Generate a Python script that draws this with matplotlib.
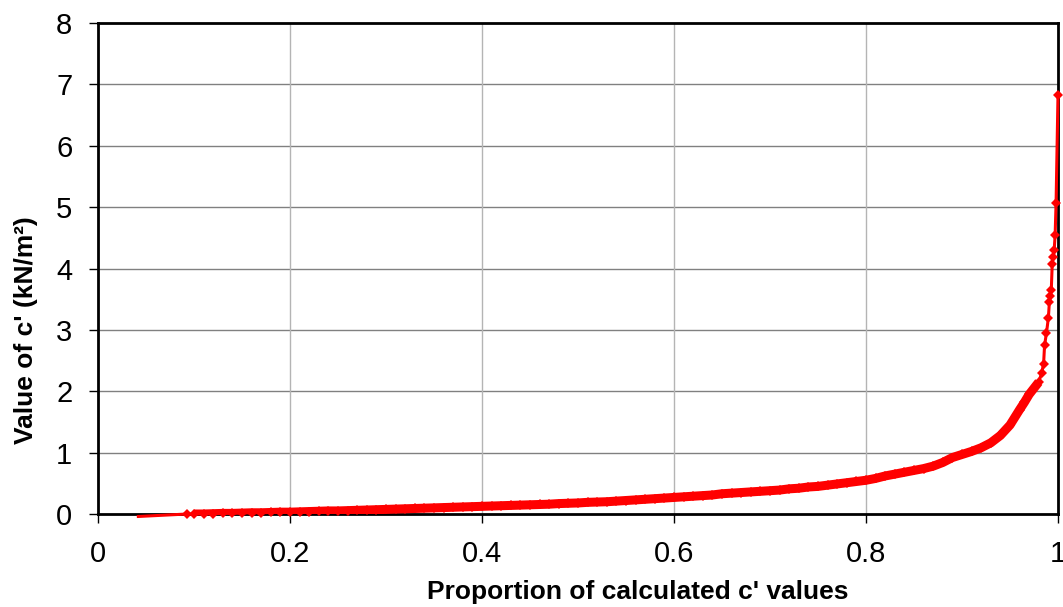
import matplotlib.pyplot as plt

# proportion of calculated values (x) and value of c' (y)
proportion = [0.042, 0.093,
              0.10, 0.11, 0.12, 0.13, 0.14, 0.15, 0.16, 0.17, 0.18, 0.19,
              0.20, 0.21, 0.22, 0.23, 0.24, 0.25, 0.26, 0.27, 0.28, 0.29,
              0.30, 0.31, 0.32, 0.33, 0.34, 0.35, 0.36, 0.37, 0.38, 0.39,
              0.40, 0.41, 0.42, 0.43, 0.44, 0.45, 0.46, 0.47, 0.48, 0.49,
              0.50, 0.51, 0.52, 0.53, 0.54, 0.55, 0.56, 0.57, 0.58, 0.59,
              0.60, 0.61, 0.62, 0.63, 0.64, 0.65, 0.66, 0.67, 0.68, 0.69,
              0.70, 0.71, 0.72, 0.73, 0.74, 0.75, 0.76, 0.77, 0.78, 0.79,
              0.80, 0.81, 0.82, 0.83, 0.84, 0.85, 0.86, 0.87, 0.88, 0.89,
              0.90, 0.91, 0.92, 0.93, 0.94, 0.95, 0.96, 0.965, 0.97, 0.975,
              0.98, 0.983, 0.985, 0.986, 0.988, 0.990, 0.991, 0.992, 0.993,
              0.994, 0.995, 0.996, 0.997, 0.998, 1.000]
c_value = [-0.04, 0.0,
           0.0, 0.0, 0.005, 0.01, 0.01, 0.015, 0.02, 0.02, 0.025, 0.03,
           0.03, 0.035, 0.04, 0.045, 0.05, 0.05, 0.055, 0.06, 0.065, 0.07,
           0.075, 0.08, 0.085, 0.09, 0.095, 0.10, 0.105, 0.11, 0.115, 0.12,
           0.125, 0.13, 0.135, 0.14, 0.145, 0.15, 0.155, 0.16, 0.17, 0.175,
           0.18, 0.19, 0.195, 0.20, 0.21, 0.22, 0.23, 0.24, 0.25, 0.26,
           0.27, 0.28, 0.29, 0.30, 0.31, 0.33, 0.34, 0.35, 0.36, 0.37,
           0.38, 0.39, 0.41, 0.42, 0.44, 0.45, 0.47, 0.49, 0.51, 0.53,
           0.55, 0.58, 0.62, 0.65, 0.68, 0.71, 0.74, 0.78, 0.84, 0.92,
           0.97, 1.02, 1.08, 1.16, 1.28, 1.45, 1.70, 1.82, 1.95, 2.05,
           2.15, 2.30, 2.45, 2.75, 2.95, 3.20, 3.45, 3.55, 3.65,
           4.08, 4.18, 4.30, 4.54, 5.07, 6.83]

x_ticks = [0, 0.2, 0.4, 0.6, 0.8, 1]
x_tick_labels = ['0', '0.2', '0.4', '0.6', '0.8', '1']
y_ticks = [0, 1, 2, 3, 4, 5, 6, 7, 8]

plt.rcParams['font.family'] = ['Liberation Sans', 'DejaVu Sans']

fig = plt.figure(figsize=(10.63, 6.07), dpi=100)
ax = fig.add_axes([0.0922, 0.1532, 0.9031, 0.8089])

# grid: horizontal darker, vertical lighter (as in the original)
for y in y_ticks[1:-1]:
    ax.axhline(y, color='#808080', linewidth=1, zorder=1)
for x in x_ticks[1:-1]:
    ax.axvline(x, color='#b4b4b4', linewidth=1, zorder=1)

# the many overlapping markers form a thick band over the dense part
dense = slice(2, proportion.index(0.98) + 1)
ax.plot(proportion[dense], c_value[dense], color='red', linewidth=6.5,
        solid_capstyle='butt', solid_joinstyle='round', zorder=3)
ax.plot(proportion, c_value, color='red', linewidth=2.2, marker='D',
        markersize=5.5, markeredgewidth=0, markevery=list(range(1, len(proportion))),
        clip_on=False, zorder=3)

ax.set_xlim(0, 1)
ax.set_ylim(0, 8)
ax.set_xticks(x_ticks)
ax.set_xticklabels(x_tick_labels)
ax.set_yticks(y_ticks)
ax.tick_params(direction='out', length=6.5, width=1, labelsize=21, pad=12)

for side in ['left', 'bottom', 'top', 'right']:
    ax.spines[side].set_linewidth(2)
    ax.spines[side].set_color('black')

ax.set_xlabel("Proportion of calculated c' values", fontsize=19, fontweight='bold', va='center')
ax.set_ylabel("Value of c' (kN/m²)", fontsize=19, fontweight='bold')
ax.xaxis.set_label_coords(0.5625, -0.159)
ax.yaxis.set_label_coords(-0.0625, 0.375)

plt.savefig('out.png', dpi=100)
plt.close()
